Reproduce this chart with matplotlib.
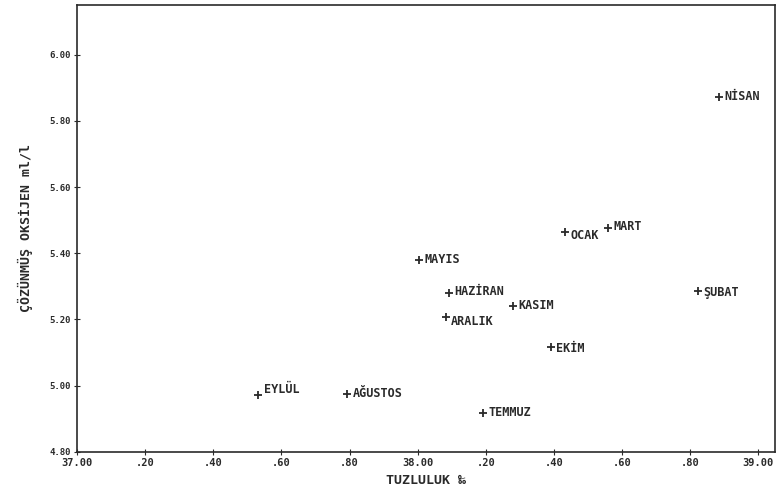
import matplotlib
matplotlib.use("Agg")
import matplotlib.pyplot as plt

months = ["NİSAN", "OCAK", "MART", "MAYIS", "HAZİRAN", "ARALIK",
          "KASIM", "EKİM", "ŞUBAT", "EYLÜL", "AĞUSTOS", "TEMMUZ"]
salinity = [38.885, 38.432, 38.559, 38.003, 38.091, 38.082,
            38.279, 38.391, 38.824, 37.532, 37.794, 38.191]
oxygen = [5.872, 5.465, 5.477, 5.380, 5.280, 5.208,
          5.241, 5.117, 5.286, 4.972, 4.975, 4.918]
label_dx = [4, 4, 4, 4, 4, 4, 4, 4, 4, 4, 4, 4]
label_dy = [0, -3, 1, 0, 1, -3, 0, -1, -1, 4, 0, 0]

xticks = [37.0, 37.2, 37.4, 37.6, 37.8, 38.0, 38.2, 38.4, 38.6, 38.8, 39.0]
xticklabels = ["37.00", ".20", ".40", ".60", ".80", "38.00", ".20", ".40", ".60", ".80", "39.00"]
yticks = [4.8, 5.0, 5.2, 5.4, 5.6, 5.8, 6.0]
yticklabels = ["4.80", "5.00", "5.20", "5.40", "5.60", "5.80", "6.00"]

ink = "#2a2a2a"
plt.rcParams['font.family'] = ['DejaVu Sans Mono', 'DejaVu Sans']

fig = plt.figure(figsize=(7.79, 4.95), dpi=100)
ax = fig.add_axes([0.099, 0.087, 0.896, 0.903])
ax.scatter(salinity, oxygen, marker='+', s=30, color=ink, linewidths=1.3)
for m, x, y, dx, dy in zip(months, salinity, oxygen, label_dx, label_dy):
    ax.annotate(m, (x, y), xytext=(dx, dy), textcoords='offset points',
                fontsize=8.5, fontweight='bold', color=ink, va='center', ha='left')

ax.set_xlim(37.0, 39.05)
ax.set_ylim(4.8, 6.15)
ax.set_xticks(xticks)
ax.set_xticklabels(xticklabels, fontsize=7.5, fontweight='bold', color=ink)
ax.set_yticks(yticks)
ax.set_yticklabels(yticklabels, fontsize=6.5, fontweight='bold', color=ink)
ax.tick_params(axis='both', direction='inout', length=5, width=0.8, color=ink, pad=2)
for s in ax.spines.values():
    s.set_color(ink)
    s.set_linewidth(1.2)
ax.set_xlabel("TUZLULUK ‰", fontsize=9.5, fontweight='bold', color=ink, labelpad=4)
ax.set_ylabel("ÇÖZÜNMÜŞ OKSİJEN ml/l", fontsize=9.5, fontweight='bold', color=ink, labelpad=12)

fig.savefig("out.png", dpi=100)
